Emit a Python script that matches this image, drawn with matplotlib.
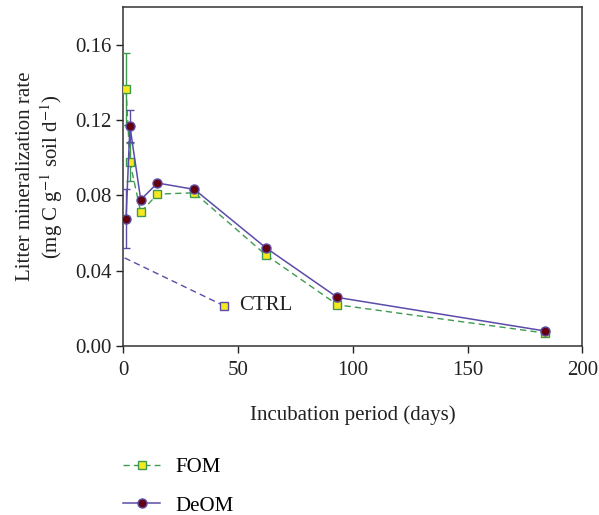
import matplotlib

matplotlib.use("Agg")
import matplotlib.pyplot as plt
from matplotlib.lines import Line2D

# incubation days and mineralization rates (mg C g-1 soil d-1)
days = [1.2, 2.9, 7.6, 14.9, 31, 62, 93.3, 183.6]
fom = [0.1365, 0.0978, 0.0711, 0.0807, 0.0814, 0.0485, 0.0219, 0.0069]
fom_err = [0.019, 0.010, 0, 0, 0, 0, 0, 0]
deom = [0.0676, 0.1168, 0.0777, 0.0866, 0.0832, 0.0523, 0.0258, 0.0080]
deom_err = [0.0157, 0.0085, 0, 0, 0, 0, 0, 0]
ctrl_days = [0.6, 44]
ctrl = [0.0468, 0.0213]

xticks = [0, 50, 100, 150, 200]
yticks = [0.00, 0.04, 0.08, 0.12, 0.16]

plt.rcParams["font.family"] = ["Liberation Serif", "DejaVu Serif"]
plt.rcParams["mathtext.fontset"] = "stix"
plt.rcParams["font.size"] = 15

green = "#3f9a50"
purple = "#5a4ca8"
yellow = "#f6ea1e"
maroon = "#65000f"
txt = "#222222"

fom_style = dict(color=green, lw=1.0, ls=(0, (4.5, 3)), marker="s", ms=5.5,
                 mfc=yellow, mec=green, mew=1.0)
deom_style = dict(color=purple, lw=1.1, ls="-", marker="o", ms=6.5,
                  mfc=maroon, mec=purple, mew=1.0)

fig = plt.figure(figsize=(5.99, 5.15), dpi=100)
ax = fig.add_axes([0.2058, 0.3282, 0.7663, 0.6577])

ax.errorbar(days, fom, yerr=fom_err, elinewidth=1.0, capsize=3, zorder=3, **fom_style)
ax.errorbar(days, deom, yerr=deom_err, elinewidth=1.0, capsize=3, zorder=4, **deom_style)
ax.plot(ctrl_days, ctrl, color=purple, lw=1.0, ls=(0, (4.5, 3)),
        marker="s", ms=5.5, mfc=yellow, mec=purple, mew=1.0, markevery=[1])
ax.annotate("CTRL", (ctrl_days[1], ctrl[1]), xytext=(11, 0), textcoords="offset points",
            va="center", ha="left", fontsize=15, color=txt)

ax.set_xlim(0, 200)
ax.set_ylim(0, 0.18)
ax.set_xticks(xticks)
ax.set_yticks(yticks)
ax.set_yticklabels([f"{v:.2f}" for v in yticks])
ax.tick_params(direction="out", length=5, width=1.0, colors=txt, labelsize=15)
ax.tick_params(axis="x", pad=6)
for s in ax.spines.values():
    s.set_color("#333333")
    s.set_linewidth(1.1)

ax.set_xlabel("Incubation period (days)", fontsize=15, labelpad=18, color=txt)
ax.set_ylabel("Litter mineralization rate\n(mg C g$^{-1}$ soil d$^{-1}$)", fontsize=15,
              labelpad=7, color=txt, linespacing=1.2)

handles = [Line2D([], [], **fom_style), Line2D([], [], **deom_style)]
fig.legend(handles, ["FOM", "DeOM"], loc="upper left", bbox_to_anchor=(0.192, 0.128),
           frameon=False, handlelength=1.75, handletextpad=0.75, labelspacing=0.92,
           fontsize=15, borderaxespad=0)

fig.savefig("out.png", dpi=100)
